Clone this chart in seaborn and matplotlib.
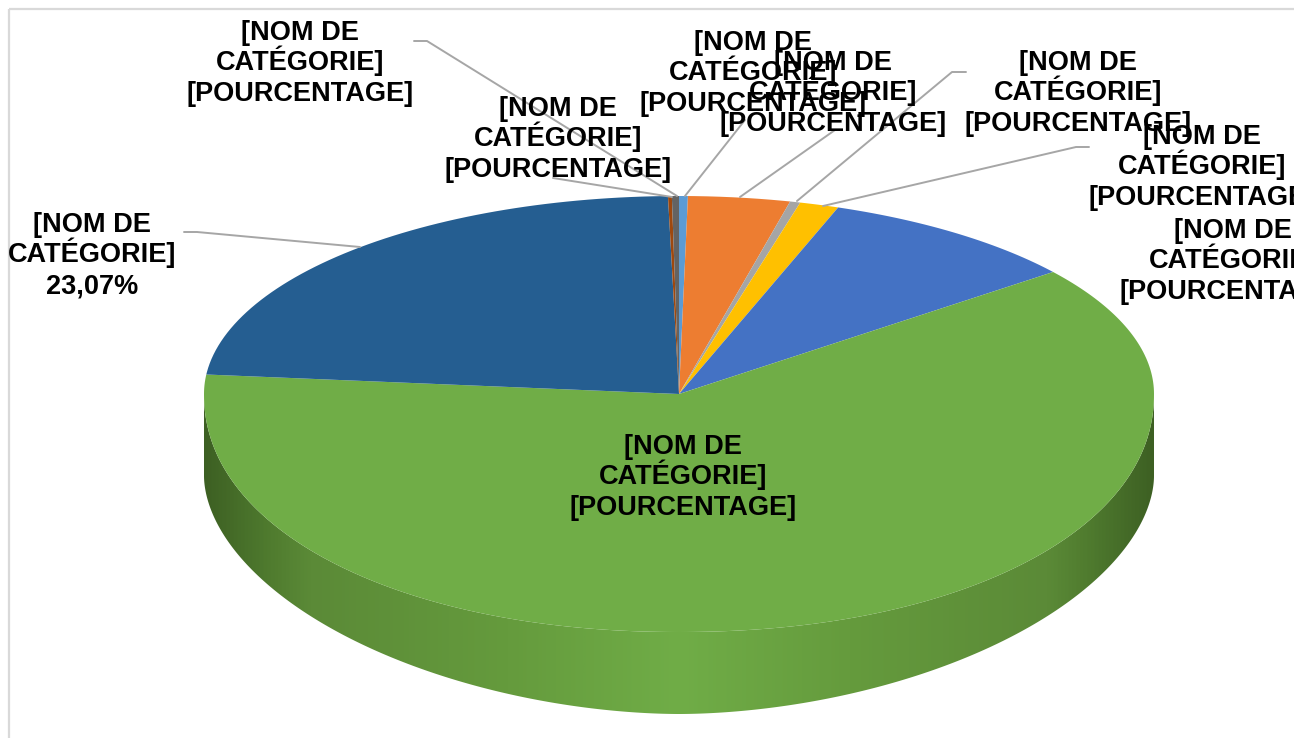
import matplotlib

matplotlib.use("Agg")

import matplotlib.pyplot as plt
import numpy as np
import seaborn as sns
from matplotlib.colors import LinearSegmentedColormap
from matplotlib.patches import PathPatch, Polygon, Rectangle
from matplotlib.path import Path
from matplotlib.transforms import Affine2D

# clockwise from 12 o'clock
SHARES = [0.30, 3.46, 0.35, 1.33, 9.00, 62.16, 23.07, 0.13, 0.24]
COLORS = ["#5B9BD5", "#ED7D31", "#A5A5A5", "#FFC000", "#4472C4",
          "#70AD47", "#255E91", "#9E480E", "#636363"]
PLACEHOLDER = "[NOM DE\nCATÉGORIE]\n[POURCENTAGE]"
LABELS = [PLACEHOLDER, PLACEHOLDER, PLACEHOLDER, PLACEHOLDER, PLACEHOLDER,
          PLACEHOLDER, "[NOM DE\nCATÉGORIE]\n23,07%", PLACEHOLDER, PLACEHOLDER]

# layout, in picture pixels
LABEL_POS = [(753, 71), (833, 91), (1078, 91), (1202, 165), (1233, 259),
             (683, 475), (92, 253), (558, 137), (300, 61)]
LEADERS = [
    [(745, 120), (685, 196)],
    [(835, 130), (740, 197)],
    [(966, 72), (952, 72), (797, 201)],
    [(1089, 147), (1076, 147), (823, 206)],
    None,
    None,
    [(184, 232), (197, 232), (360, 247)],
    [(553, 178), (672, 197)],
    [(414, 41), (427, 41), (677, 196)],
]
CX, CY, RX = 679, 394, 475
RY_BACK, RY_FRONT, DEPTH = 198, 238, 82
TOP_EXP, BOTTOM_EXP = 2.1, 1.85  # rim shape, the perspective is not a true ellipse
LINE_STEP, BASELINE_SHIFT = 30.7, 9.5
WALL_STOPS = [(0.0, "#3D6023"), (0.07, "#507C2F"), (0.11, "#5B8A37"),
              (0.32, "#659B3D"), (0.5, "#70AD47"), (0.68, "#659B3D"),
              (0.89, "#5B8A37"), (0.93, "#507C2F"), (1.0, "#3D6023")]


def rim(x: np.ndarray, exponent: float) -> np.ndarray:
    """Height of a front rim above its widest line, for x in -1..1."""
    return np.clip(1 - np.abs(x) ** exponent, 0, 1) ** (1 / exponent)


def to_picture(xy: np.ndarray) -> np.ndarray:
    """Map unit pie coordinates to the tilted disc of the picture."""
    radius = np.maximum(np.hypot(xy[:, 0], xy[:, 1]), 1e-9)
    back = CY - RY_BACK * xy[:, 1]
    front = CY + RY_FRONT * radius * rim(xy[:, 0] / radius, TOP_EXP)
    return np.column_stack([CX + RX * xy[:, 0], np.where(xy[:, 1] > 0, back, front)])


sns.set_theme(style="white")
plt.rcParams["font.family"] = ["Liberation Sans", "DejaVu Sans"]

fig, ax = plt.subplots(figsize=(12.94, 7.38), dpi=100)
fig.subplots_adjust(left=0, right=1, bottom=0, top=1)

wedges, _ = ax.pie(SHARES, colors=sns.color_palette(COLORS), startangle=90,
                   counterclock=False, radius=1)

ax.set_aspect("auto")
ax.set_xlim(0, 1294)
ax.set_ylim(738, 0)
ax.axis("off")

ax.add_patch(Rectangle((9, 9), 1500, 1000, fill=False, edgecolor="#D9D9D9",
                       linewidth=1.6, zorder=0))

# side wall, only the front half shows
unit_x = np.cos(np.linspace(0, np.pi, 400))
wall_x = CX + RX * unit_x
wall_top = CY + RY_FRONT * rim(unit_x, TOP_EXP)
wall_bottom = CY + DEPTH + RY_FRONT * rim(unit_x, BOTTOM_EXP)
wall = np.vstack([np.column_stack([wall_x, wall_bottom]),
                  np.column_stack([wall_x, wall_top])[::-1]])
wall_patch = Polygon(wall, closed=True, facecolor="none", edgecolor="none")
ax.add_patch(wall_patch)
cmap = LinearSegmentedColormap.from_list("wall", WALL_STOPS)
image = ax.imshow(np.linspace(0, 1, 512)[None, :], cmap=cmap, aspect="auto",
                  extent=(CX - RX, CX + RX, CY + RY_FRONT + DEPTH, CY), zorder=1)
image.set_clip_path(wall_patch)
ax.set_xlim(0, 1294)
ax.set_ylim(738, 0)

# top face: pie wedges squashed onto the disc
for wedge in wedges:
    scale = Affine2D().scale(2000)
    poly = wedge.get_path().to_polygons(scale, closed_only=True)[0] / 2000
    wedge.set_visible(False)
    ax.add_patch(PathPatch(Path(to_picture(poly)), facecolor=wedge.get_facecolor(),
                           edgecolor="none", zorder=2))

for leader in LEADERS:
    if leader is not None:
        xs, ys = zip(*leader)
        ax.plot(xs, ys, color="#A6A6A6", linewidth=1.4, zorder=3,
                solid_joinstyle="round")

# lines set one by one, matplotlib spaces the line with É wider
for text, (x, y) in zip(LABELS, LABEL_POS):
    for i, line in enumerate(text.split("\n")):
        ax.text(x, y + (i - 1) * LINE_STEP + BASELINE_SHIFT, line, ha="center",
                va="baseline", fontsize=19.5, fontweight="bold", color="black",
                zorder=4)

fig.savefig("out.png", dpi=100)
